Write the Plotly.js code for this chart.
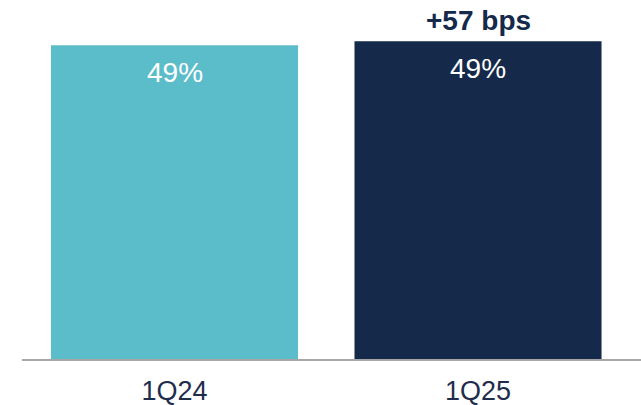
<!DOCTYPE html>
<html>
<head>
<meta charset="utf-8">
<script src="https://cdn.plot.ly/plotly-3.0.1.min.js"></script>
<style>html,body{margin:0;padding:0;background:#fff;}#chart{width:641px;height:405px;}</style>
</head>
<body>
<div id="chart"></div>
<script>
var categories = ["1Q24", "1Q25"];
var values = [48.9, 49.5];
var valueLabels = ["49%", "49%"];
var changeLabel = "+57 bps";

var barColors = ["#5BBDC9", "#15294B"];
var fontFamily = "Liberation Sans, Arial, sans-serif";

var trace = {
  type: "bar",
  x: categories,
  y: values,
  marker: {color: barColors, line: {width: 0}},
  hoverinfo: "none"
};

var annotations = categories.map(function (c, i) {
  return {
    x: c, y: values[i], xref: "x", yref: "y",
    text: valueLabels[i], showarrow: false,
    yanchor: "middle", yshift: -27,
    font: {family: fontFamily, size: 28, color: "#ffffff"}
  };
});
annotations.push({
  x: categories[1], y: values[1], xref: "x", yref: "y",
  text: "<b>" + changeLabel + "</b>", showarrow: false,
  yanchor: "middle", yshift: 21,
  font: {family: fontFamily, size: 28, color: "#15294B"}
});

var layout = {
  width: 641, height: 405,
  margin: {l: 22, r: 0, t: 6, b: 46},
  paper_bgcolor: "#ffffff", plot_bgcolor: "#ffffff",
  bargap: 0.186,
  showlegend: false,
  xaxis: {
    type: "category",
    range: [-0.5025, 1.537],
    showline: true, linecolor: "#A6A6A6", linewidth: 2,
    ticks: "", showgrid: false, zeroline: false,
    tickfont: {family: fontFamily, size: 27, color: "#1F2D4D"},
    ticklabelstandoff: 7
  },
  yaxis: {
    range: [0, 55], visible: false, showgrid: false, zeroline: false
  },
  annotations: annotations
};

Plotly.newPlot("chart", [trace], layout, {staticPlot: true, displayModeBar: false});
</script>
</body>
</html>
